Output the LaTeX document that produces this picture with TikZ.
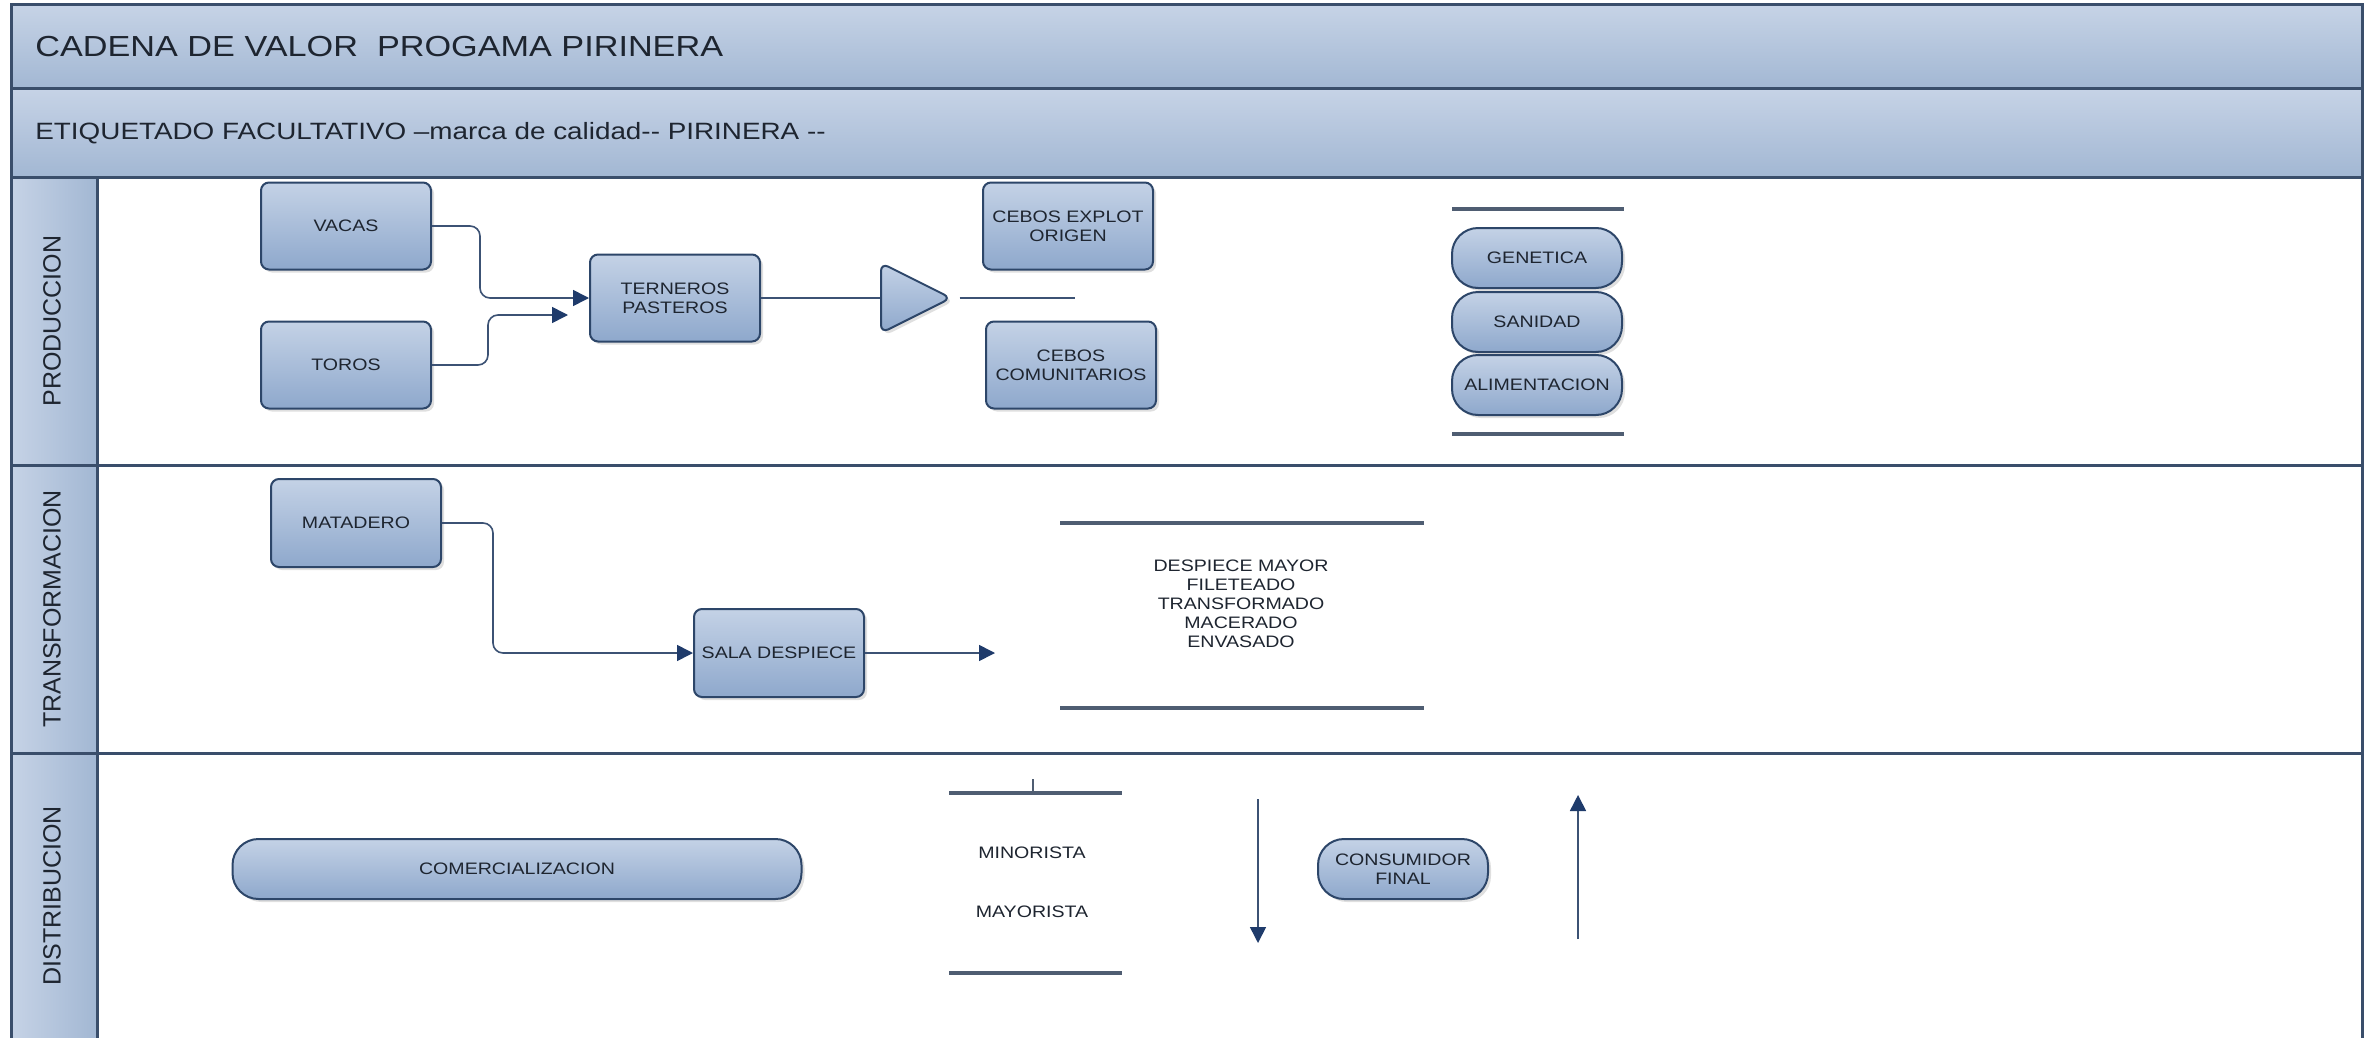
\documentclass[tikz,border=0pt]{standalone}
\usepackage{fontspec}
\setmainfont{Liberation Sans}[FakeStretch=1.18]
\newfontfamily\lanefont{Liberation Sans}
\usepackage{tikz}
\usetikzlibrary{shapes.geometric, arrows.meta, shadows}

\definecolor{laneline}{HTML}{3A4E6B}
\definecolor{bandtop}{HTML}{C6D3E6}
\definecolor{bandbot}{HTML}{A2B7D3}
\definecolor{boxtop}{HTML}{C4D2E6}
\definecolor{boxbot}{HTML}{8EA8CC}
\definecolor{boxline}{HTML}{2D4669}
\definecolor{connline}{HTML}{3C5274}
\definecolor{tipblue}{HTML}{1F3B6B}
\definecolor{barline}{HTML}{4F5D72}
\definecolor{txt}{HTML}{1E2530}

\begin{document}
\begin{tikzpicture}[
    x=0.5pt, y=-0.5pt,
    every node/.style={font=\fontsize{8.3}{9.5}\selectfont, text=txt},
    >={Triangle[length=8pt,width=8pt,color=tipblue]},
    box/.style={rectangle, draw=boxline, line width=1pt, rounded corners=4pt,
        top color=boxtop, bottom color=boxbot, align=center, inner sep=1pt,
        minimum width=85pt, minimum height=43.5pt,
        drop shadow={shadow xshift=1.5pt, shadow yshift=-1.5pt, opacity=0.25}},
    pill/.style={box, rounded corners=13pt, minimum height=30pt},
    conn/.style={draw=connline, line width=0.8pt, rounded corners=5pt},
    bar/.style={draw=barline, line width=1.8pt},
    band/.style={draw=laneline, line width=1.5pt, top color=bandtop, bottom color=bandbot},
    lanehead/.style={draw=laneline, line width=1.5pt, left color=bandtop, right color=bandbot},
    lane/.style={rotate=90, font=\lanefont\fontsize{12.5}{13}\selectfont}
]
\clip (0,0) rectangle (2371,1038);
\fill[white] (0,0) rectangle (2371,1038);

% marco y carriles
\path[band] (11,5) rectangle (2362,89);
\path[band] (11,89) rectangle (2362,177);
\draw[laneline, line width=1.5pt] (11,177) rectangle (2362,1060);
\foreach \y in {465,753}
    \draw[laneline, line width=1.5pt] (11,\y) -- (2362,\y);
\foreach \ya/\yb in {177/465, 465/753, 753/1060}
    \path[lanehead] (11,\ya) rectangle (97,\yb);

\node[anchor=west, inner sep=0pt, font=\fontsize{14.5}{16}\selectfont] (titulo) at (35,47) {CADENA DE VALOR\ \ PROGAMA PIRINERA};
\node[anchor=west, inner sep=0pt, font=\fontsize{11.8}{13}\selectfont] (etiqueta) at (35,133) {ETIQUETADO FACULTATIVO –marca de calidad-{}- PIRINERA -{}-};

\node[lane] (produccion) at (52,321) {PRODUCCION};
\node[lane] (transformacion) at (52,609) {TRANSFORMACION};
\node[lane] (distribucion) at (52,896) {DISTRIBUCION};

% produccion
\node[box] (vacas) at (346,226) {VACAS};
\node[box] (toros) at (346,365) {TOROS};
\node[box] (terneros) at (675,298) {TERNEROS\\PASTEROS};
\node[box, isosceles triangle, shape border rotate=0, isosceles triangle stretches,
    minimum width=35pt, minimum height=35pt, inner sep=0pt, anchor=lower side] (reparto) at (880,298) {};
\node[box] (cebosorig) at (1068,226) {CEBOS EXPLOT\\ORIGEN};
\node[box] (ceboscom) at (1071,365) {CEBOS\\COMUNITARIOS};
\coordinate (torosin) at (568,315);
\coordinate (cebosfork) at (1075,298);

\draw[conn, ->] (vacas.east) -- ++(48,0) |- (terneros.west);
\draw[conn, ->] (toros.east) -- ++(56,0) |- (torosin);
\draw[conn] (terneros) -- (reparto.lower side);
\draw[conn] ([xshift=3pt]reparto.apex) -- (cebosfork);

\node[pill] (genetica) at (1537,258) {GENETICA};
\node[pill] (sanidad) at (1537,322) {SANIDAD};
\node[pill] (alimentacion) at (1537,385) {ALIMENTACION};
\draw[bar] (1452,209) -- (1624,209);
\draw[bar] (1452,434) -- (1624,434);

% transformacion
\node[box, minimum height=44pt] (matadero) at (356,523) {MATADERO};
\node[box, minimum height=44pt] (sala) at (779,653) {SALA DESPIECE};
\coordinate (despout) at (995,653);

\draw[conn, ->] (matadero.east) -- ++(51,0) |- (sala.west);
\draw[conn, ->] (sala.east) -- (despout);

\draw[bar] (1060,523) -- (1424,523);
\draw[bar] (1060,708) -- (1424,708);
\node[align=center] (tareas) at (1241,604) {DESPIECE MAYOR\\FILETEADO\\TRANSFORMADO\\MACERADO\\ENVASADO};

% distribucion
\node[pill, minimum width=284.5pt] (comerc) at (517,869) {COMERCIALIZACION};
\draw[bar] (949,793) -- (1122,793);
\draw[bar] (949,973) -- (1122,973);
\draw[barline, line width=0.6pt] (1033,779) -- (1033,793);
\node (minorista) at (1032,853) {MINORISTA};
\node (mayorista) at (1032,912) {MAYORISTA};
\node[pill] (consumidor) at (1403,869) {CONSUMIDOR\\FINAL};
\coordinate (bajaini) at (1258,799);
\coordinate (bajafin) at (1258,943);
\coordinate (subeini) at (1578,939);
\coordinate (subefin) at (1578,795);

\draw[conn, ->] (bajaini) -- (bajafin);
\draw[conn, ->] (subeini) -- (subefin);
\end{tikzpicture}
\end{document}
